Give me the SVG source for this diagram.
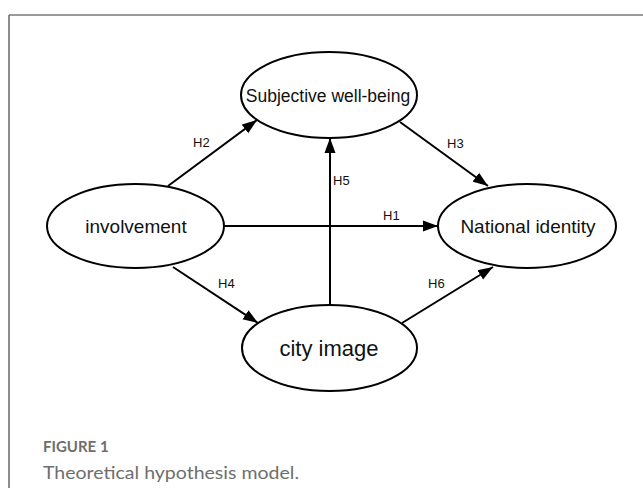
<svg xmlns="http://www.w3.org/2000/svg" width="643" height="488" viewBox="0 0 643 488">
<style>
.node ellipse{fill:#fff;stroke:#000;stroke-width:2}
.node text{font-family:"Liberation Sans",Arial,sans-serif;fill:#111;text-anchor:middle}
.edge{stroke:#000;stroke-width:2;fill:none}
.lbl{font-family:"Liberation Sans",Arial,sans-serif;font-size:13px;fill:#111}
.cap{font-family:Lato,"Open Sans",sans-serif;fill:#6e6e6e}
</style>
<defs>
<marker id="ah" markerUnits="userSpaceOnUse" markerWidth="16" markerHeight="12" refX="15" refY="6" orient="auto">
<path d="M0,0.5 L15,6 L0,11.5 z" fill="#000"/>
</marker>
</defs>
<rect width="643" height="488" fill="#fff"/>
<line x1="9" y1="15" x2="643" y2="15" stroke="#9a9a9a" stroke-width="2"/>
<line x1="9" y1="15" x2="9" y2="488" stroke="#666" stroke-width="1.5"/>
<g id="connectors">
<line class="edge" x1="168" y1="186" x2="257" y2="120" marker-end="url(#ah)"/>
<line class="edge" x1="400" y1="122" x2="488" y2="186" marker-end="url(#ah)"/>
<line class="edge" x1="330" y1="305" x2="330" y2="138" marker-end="url(#ah)"/>
<line class="edge" x1="224" y1="226" x2="438" y2="226" marker-end="url(#ah)"/>
<line class="edge" x1="173" y1="267" x2="258" y2="323" marker-end="url(#ah)"/>
<line class="edge" x1="402" y1="323" x2="493" y2="267" marker-end="url(#ah)"/>
<text class="lbl" x="193" y="147">H2</text>
<text class="lbl" x="447" y="148">H3</text>
<text class="lbl" x="333" y="185">H5</text>
<text class="lbl" x="383" y="220">H1</text>
<text class="lbl" x="218" y="288">H4</text>
<text class="lbl" x="428" y="288">H6</text>
</g>
<g id="swb" class="node">
<ellipse cx="329" cy="95" rx="88" ry="43"/>
<text x="328" y="102" font-size="17.5">Subjective well-being</text>
</g>
<g id="involvement" class="node">
<ellipse cx="135.5" cy="226" rx="88.5" ry="42"/>
<text x="136" y="233" font-size="19">involvement</text>
</g>
<g id="national" class="node">
<ellipse cx="527" cy="226" rx="89" ry="42"/>
<text x="528" y="233" font-size="19">National identity</text>
</g>
<g id="city" class="node">
<ellipse cx="329.5" cy="348" rx="87.5" ry="43"/>
<text x="329" y="356" font-size="22">city image</text>
</g>
<text class="cap" x="43" y="452" font-size="15" font-weight="bold">FIGURE 1</text>
<text class="cap" x="43" y="479" font-size="18" textLength="256" lengthAdjust="spacingAndGlyphs">Theoretical hypothesis model.</text>
</svg>
